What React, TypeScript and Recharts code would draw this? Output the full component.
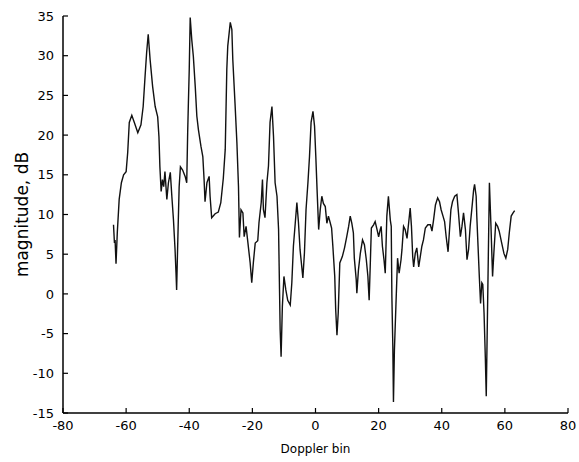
import React from 'react';
import { LineChart, Line, XAxis, YAxis } from 'recharts';

// Doppler bin positions of the traced points
const dopplerBin: number[] = [
  -64.0, -63.7, -63.5, -63.2, -62.8, -62.2, -61.5, -60.8, -60.0, -59.5,
  -59.0, -58.2, -57.4, -56.3, -55.3, -54.6, -54.0, -53.5, -53.0, -52.4,
  -51.6, -50.8, -50.0, -49.6, -49.3, -48.9, -48.5, -48.1, -47.7, -47.1,
  -46.6, -46.0, -45.5, -45.0, -44.5, -44.2, -44.0, -43.7, -43.2, -42.8,
  -42.1, -41.3, -40.8, -40.5, -40.3, -40.0, -39.7, -39.2, -38.7, -38.1,
  -37.6, -37.1, -36.3, -35.7, -35.3, -35.0, -34.4, -33.7, -33.4, -32.9,
  -31.8, -30.8, -30.0, -29.2, -28.6, -28.1, -27.8, -27.0, -26.5, -26.2,
  -25.5, -24.9, -24.4, -24.1, -23.6, -23.0, -22.6, -22.0, -21.4, -20.7,
  -20.2, -19.7, -19.1, -18.3, -17.9, -17.2, -16.8, -16.5, -16.0, -15.4,
  -14.9, -14.4, -13.8, -13.3, -12.8, -12.2, -11.7, -11.4, -11.2, -10.9,
  -10.5, -10.0, -9.4, -8.8, -8.0, -7.5, -7.0, -6.4, -5.9, -5.4,
  -4.9, -4.0, -3.5, -3.0, -2.4, -1.9, -1.4, -0.8, -0.3, 0.1,
  0.5, 1.0, 1.5, 2.0, 2.5, 3.1, 3.6, 4.1, 4.7, 5.1,
  5.5, 6.1, 6.4, 6.8, 7.2, 7.7, 8.5, 9.2, 9.9, 10.5,
  11.0, 11.5, 12.0, 12.3, 12.9, 13.1, 13.6, 14.2, 14.9, 15.5,
  16.1, 16.6, 17.0, 17.3, 17.7, 18.4, 18.9, 19.5, 20.0, 20.5,
  20.8, 21.2, 21.7, 22.1, 22.6, 23.1, 23.7, 24.0, 24.2, 24.5,
  24.7, 25.0, 25.5, 26.0, 26.5, 27.1, 27.4, 27.9, 28.4, 29.0,
  29.5, 30.0, 30.4, 30.8, 31.1, 31.6, 32.1, 32.7, 33.2, 33.7,
  34.2, 34.8, 35.6, 36.4, 36.9, 37.4, 38.0, 38.7, 39.3, 39.8,
  40.4, 40.9, 41.4, 42.0, 42.4, 42.9, 43.4, 44.1, 44.8, 45.3,
  45.9, 46.4, 46.9, 47.5, 48.0, 48.5, 49.0, 49.6, 50.1, 50.4,
  50.9, 51.1, 51.5, 51.9, 52.3, 52.7, 53.0, 53.4, 53.8, 54.1,
  55.1, 55.6, 56.1, 56.5, 57.1, 57.7, 58.2, 59.0, 59.7, 60.3,
  60.9, 61.4, 62.0, 62.6, 63.1,
];

// magnitude, dB at each traced point
const magnitudeDb: number[] = [
  8.7, 6.4, 6.8, 3.8, 7.7, 11.9, 14.0, 15.0, 15.4, 17.8,
  21.6, 22.5, 21.6, 20.3, 21.3, 23.6, 27.4, 30.4, 32.7, 29.5,
  26.1, 23.6, 22.3, 19.8, 16.0, 12.9, 14.4, 13.5, 15.4, 11.9,
  14.0, 15.3, 12.2, 9.3, 5.6, 2.7, 0.5, 5.6, 13.5, 16.0,
  15.6, 14.8, 14.0, 20.3, 23.6, 28.3, 34.8, 32.0, 29.9, 26.1,
  22.4, 20.7, 18.6, 17.3, 14.4, 11.6, 14.0, 14.8, 12.3, 9.6,
  10.1, 10.3, 11.5, 14.6, 18.2, 28.3, 31.2, 34.2, 33.3, 29.5,
  24.0, 19.0, 13.5, 7.1, 10.6, 10.2, 7.2, 8.5, 6.4, 3.9,
  1.4, 3.9, 6.4, 6.7, 9.0, 11.5, 14.4, 10.6, 9.6, 14.0,
  16.1, 21.6, 23.6, 19.8, 14.0, 12.3, 8.1, 0.5, -4.5, -7.9,
  -1.6, 2.2, 0.5, -0.8, -1.4, 1.4, 6.0, 9.0, 11.5, 9.0,
  5.6, 2.0, 5.2, 10.6, 14.0, 17.3, 21.6, 23.0, 21.1, 17.3,
  13.1, 8.1, 10.6, 12.3, 11.4, 11.0, 8.9, 9.8, 8.9, 8.3,
  6.0, 2.2, -2.0, -5.2, -2.4, 3.9, 4.7, 5.8, 7.2, 8.5,
  9.8, 8.9, 7.7, 4.5, 1.8, 0.1, 3.0, 5.1, 6.8, 6.2,
  4.3, 2.2, -0.8, 3.0, 8.3, 8.7, 9.1, 8.1, 7.2, 8.1,
  8.5, 6.0, 4.3, 2.6, 9.8, 12.3, 9.3, 8.5, -0.3, -6.6,
  -13.6, -7.1, -1.2, 4.5, 2.6, 4.3, 5.6, 8.5, 8.1, 7.0,
  8.9, 10.8, 8.5, 4.7, 3.4, 5.1, 5.8, 3.4, 4.7, 6.0,
  6.8, 8.3, 8.7, 8.7, 7.9, 9.3, 11.2, 12.1, 11.6, 10.6,
  9.8, 9.1, 7.2, 5.3, 7.7, 10.6, 11.6, 12.3, 12.5, 10.2,
  7.2, 8.5, 10.2, 8.1, 4.3, 5.6, 8.5, 11.0, 13.1, 13.8,
  12.3, 9.8, 6.0, 2.2, -1.2, 1.4, 1.2, -2.4, -7.9, -12.9,
  14.0, 8.5, 2.2, 5.1, 8.9, 8.5, 7.9, 6.4, 5.1, 4.5,
  5.6, 7.7, 9.8, 10.2, 10.5,
];

const xTicks: number[] = [-80, -60, -40, -20, 0, 20, 40, 60, 80];
const yTicks: number[] = [-15, -10, -5, 0, 5, 10, 15, 20, 25, 30, 35];

const data = dopplerBin.map((bin, i) => ({ bin, mag: magnitudeDb[i] }));

const FONT = '"DejaVu Sans", Arial, Helvetica, sans-serif';
const tickStyle = { fontSize: 13, fill: '#000', fontFamily: FONT };

export default function App() {
  return (
    <div style={{ position: 'absolute', left: 0, top: 0, width: 579, height: 462, background: '#fff', fontFamily: FONT }}>
      <LineChart width={579} height={462} data={data} margin={{ top: 16, right: 11, bottom: 0, left: 0 }}>
        <XAxis
          dataKey="bin"
          type="number"
          domain={[-80, 80]}
          ticks={xTicks}
          interval={0}
          allowDataOverflow
          height={49}
          tick={tickStyle}
          tickSize={-5}
          tickMargin={13}
          axisLine={{ stroke: '#000', strokeWidth: 1.5 }}
          tickLine={{ stroke: '#000', strokeWidth: 1.2 }}
          label={{ value: 'Doppler bin', position: 'insideBottom', offset: 9, style: { fontSize: 12, fill: '#000', fontFamily: FONT } }}
        />
        <YAxis
          type="number"
          domain={[-15, 35]}
          ticks={yTicks}
          interval={0}
          allowDataOverflow
          width={63}
          tick={tickStyle}
          tickSize={-5}
          tickMargin={14}
          axisLine={{ stroke: '#000', strokeWidth: 1.5 }}
          tickLine={{ stroke: '#000', strokeWidth: 1.2 }}
          label={{ value: 'magnitude, dB', angle: -90, position: 'insideLeft', offset: 22, style: { textAnchor: 'middle', fontSize: 17, fill: '#000', fontFamily: FONT } }}
        />
        <Line
          type="linear"
          dataKey="mag"
          stroke="#111"
          strokeWidth={1.4}
          dot={false}
          isAnimationActive={false}
        />
      </LineChart>
    </div>
  );
}
